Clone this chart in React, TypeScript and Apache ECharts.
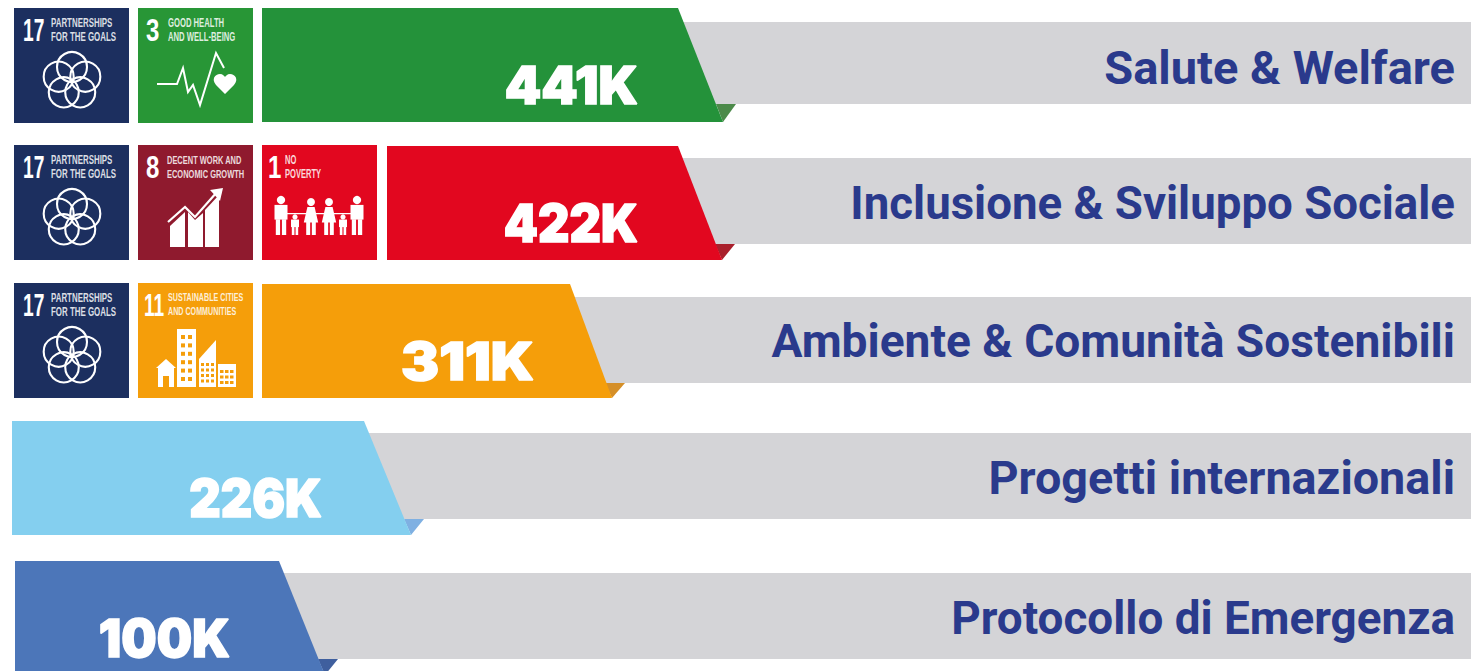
import React, { useEffect, useRef } from "react";
import * as echarts from "echarts";

// ---- data ----
const categories = [
  "Salute & Welfare",
  "Inclusione & Sviluppo Sociale",
  "Ambiente & Comunità Sostenibili",
  "Progetti internazionali",
  "Protocollo di Emergenza",
];
const values = [441, 422, 311, 226, 100];
const valueSuffix = "K";
// the infographic's bars are not to scale: where each bar starts and ends on the hidden x axis
const barStarts = [262, 387, 262, 12, 15];
const barEnds = [723, 722, 612, 411, 325];
const valueEnds = [638, 638, 534, 322, 230];
const sdgGoals = [[17, 3], [17, 8, 1], [17, 11], [], []];

// ---- styles and layout ----
const barColors = ["#24923a", "#e2071f", "#f59e0a", "#84cfef", "#4c76b9"];
const foldColors = ["#4c8a4a", "#a9202c", "#d58f28", "#7fb0e2", "#3f5f9e"];
const GRAY = "#d4d4d7";
const LABEL = "#2a3a8c";
const X_MAX = 1471;
const BAR_H = 114;
const slants = [45, 44, 42, 47, 46];
const rowNudge = [0, 0, 0, -1, 1];
const grayTop = [43, 45, 44, 45, 45];
const grayBottom = [39, 41, 42, 41, 41];
const labelScale = [1, 0.971, 0.981, 0.994, 0.975];
const labelNudge = [3, 0, 0, 0, 0];
const valueScale = [1, 0.937, 1.096, 0.937, 0.958];
const tileTop = [57, 58, 58];
const tileX = [14, 138, 262];
const TILE = 115;
const BODY = "Roboto, Lato, sans-serif";
const HEAVY = "Inter, Roboto, sans-serif";
const NARROW = "'Liberation Sans Narrow', 'Liberation Sans', sans-serif";

const goalInfo: Record<number, any> = {
  17: { color: "#1c2f5f", lines: ["PARTNERSHIPS", "FOR THE GOALS"], nx: 9, ns: 0.6, tx: 37, sx: 0.66, fs: 12 },
  3: { color: "#289636", lines: ["GOOD HEALTH", "AND WELL-BEING"], nx: 8, ns: 0.75, tx: 30, sx: 0.64, fs: 12 },
  8: { color: "#8f1a2e", lines: ["DECENT WORK AND", "ECONOMIC GROWTH"], nx: 8, ns: 0.75, tx: 29, sx: 0.68, fs: 11 },
  1: { color: "#e2071f", lines: ["NO", "POVERTY"], nx: 6, ns: 0.75, tx: 23, sx: 0.63, fs: 12 },
  11: { color: "#f59e0a", lines: ["SUSTAINABLE CITIES", "AND COMMUNITIES"], nx: 6, ns: 0.6, tx: 30, sx: 0.65, fs: 11 },
};

const W = "#ffffff";
const rect = (x: number, y: number, width: number, height: number, fill = W) => ({
  type: "rect",
  shape: { x, y, width, height },
  style: { fill },
});
const poly = (points: number[][], fill = W) => ({ type: "polygon", shape: { points }, style: { fill } });

function flower() {
  const rings: any[] = [];
  for (let k = 0; k < 5; k++) {
    const a = ((-90 + 72 * k) * Math.PI) / 180;
    rings.push({
      type: "circle",
      shape: { cx: 58 + 14 * Math.cos(a), cy: 73 + 14 * Math.sin(a), r: 15 },
      style: { fill: "none", stroke: W, lineWidth: 2.1 },
    });
  }
  return rings;
}

function health() {
  return [
    {
      type: "polyline",
      shape: {
        points: [[19, 76], [39, 76], [45, 60], [50, 84], [55, 77], [62, 97], [78, 45], [86, 60]],
      },
      style: { fill: "none", stroke: W, lineWidth: 2 },
    },
    {
      type: "path",
      shape: {
        pathData: "M87 86 L78 77 C73 71 77 66 82 66 C85 66 86 68 87 69 C88 68 89 66 92 66 C97 66 101 71 96 77 Z",
      },
      style: { fill: W },
    },
  ];
}

function growth() {
  return [
    poly([[32, 81], [47, 67], [47, 102], [32, 102]]),
    poly([[50, 67], [57, 75], [65, 68], [65, 102], [50, 102]]),
    poly([[67, 65], [81, 50], [81, 102], [67, 102]]),
    {
      type: "polyline",
      shape: { points: [[30, 77], [47, 62], [57, 72], [79, 47]] },
      style: { fill: "none", stroke: W, lineWidth: 2.2 },
    },
    poly([[85, 43], [72, 45], [82, 56]]),
  ];
}

function person(cx: number, head: number, feet: number, w: number, dress: boolean) {
  const h = feet - head;
  const items: any[] = [
    { type: "circle", shape: { cx, cy: head, r: h * 0.09 + 1 }, style: { fill: W } },
    dress
      ? poly([[cx - w * 0.3, head + h * 0.15], [cx + w * 0.3, head + h * 0.15], [cx + w * 0.6, head + h * 0.62], [cx - w * 0.6, head + h * 0.62]])
      : rect(cx - w / 2, head + h * 0.14, w, h * 0.42),
    rect(cx - w * 0.4, head + h * 0.55, w * 0.33, h * 0.45),
    rect(cx + w * 0.07, head + h * 0.55, w * 0.33, h * 0.45),
  ];
  return items;
}

function family() {
  return [
    ...person(19, 55, 90, 13, false),
    ...person(33, 72, 90, 8, false),
    ...person(49, 57, 90, 12, true),
    ...person(67, 57, 90, 12, true),
    ...person(81, 72, 90, 8, false),
    ...person(95, 55, 90, 13, false),
    rect(24, 68, 72, 1.2),
  ];
}

function city() {
  const bg = goalInfo[11].color;
  const out: any[] = [
    poly([[18, 85], [28, 76], [38, 85]]),
    rect(20, 85, 16, 19),
    rect(25, 93, 6, 11, bg),
    rect(39, 46, 19, 58),
    poly([[61, 76], [78, 57], [78, 104], [61, 104]]),
    rect(80, 81, 18, 23),
  ];
  for (let r = 0; r < 6; r++) {
    out.push(rect(43, 52 + r * 8.4, 4, 4, bg), rect(50, 52 + r * 8.4, 4, 4, bg));
  }
  for (let r = 0; r < 4; r++) {
    for (let c = 0; c < 3; c++) {
      out.push(rect(63 + c * 5, 80 + r * 5.5, 3, 3, bg));
    }
  }
  for (let r = 0; r < 3; r++) {
    for (let c = 0; c < 3; c++) {
      out.push(rect(82 + c * 5, 87 + r * 5.5, 3.5, 3, bg));
    }
  }
  return out;
}

const icons: Record<number, () => any[]> = { 17: flower, 3: health, 8: growth, 1: family, 11: city };

function tileChildren(goal: number) {
  const g = goalInfo[goal];
  return [
    rect(0, 0, TILE, TILE, g.color),
    {
      type: "text",
      x: g.nx,
      y: 22,
      scaleX: g.ns,
      style: { text: String(goal), fill: W, font: `bold 32px ${NARROW}`, align: "left", verticalAlign: "middle" },
    },
    ...g.lines.map((line: string, i: number) => ({
      type: "text",
      x: g.tx,
      y: 14.5 + i * 14,
      scaleX: g.sx,
      style: {
        text: line,
        fill: "rgba(255,255,255,0.85)",
        font: `bold ${g.fs}px ${NARROW}`,
        align: "left",
        verticalAlign: "middle",
      },
    })),
    ...icons[goal](),
  ];
}

const rows = categories.map((_, i) => i);
const centerY = (api: any, row: number, x = 0) => api.coord([x, row])[1] + rowNudge[row];

function App() {
  const ref = useRef<HTMLDivElement>(null);
  useEffect(() => {
    const chart = echarts.init(ref.current!, undefined, { renderer: "svg" });
    chart.setOption({
      animation: false,
      grid: { left: 0, right: 0, top: -4, height: 690, outerBoundsMode: "none" },
      xAxis: { type: "value", min: 0, max: X_MAX, show: false },
      yAxis: { type: "category", data: categories, inverse: true, show: false },
      series: [
        {
          // grey ribbons with the category names
          type: "custom",
          clip: false,
          encode: { x: 0, y: 1 },
          data: rows.map((r) => [barEnds[r] - slants[r], r]),
          renderItem: (_p: any, api: any) => {
            const r = api.value(1);
            const cy = centerY(api, r);
            const x = api.coord([api.value(0), r])[0];
            const right = api.coord([X_MAX, r])[0];
            return {
              type: "group",
              children: [
                {
                  type: "rect",
                  shape: { x, y: cy - grayTop[r], width: right - x, height: grayTop[r] + grayBottom[r] },
                  style: { fill: GRAY },
                },
                {
                  type: "text",
                  x: right - 16,
                  y: cy - 0.5 + labelNudge[r],
                  scaleX: labelScale[r],
                  style: {
                    text: categories[r],
                    fill: LABEL,
                    font: `bold 47px ${BODY}`,
                    align: "right",
                    verticalAlign: "middle",
                  },
                },
              ],
            };
          },
        },
        {
          // coloured slanted bars with their values
          type: "custom",
          clip: false,
          encode: { x: [0, 1], y: 2 },
          data: rows.map((r) => [barStarts[r], barEnds[r], r]),
          renderItem: (_p: any, api: any) => {
            const r = api.value(2);
            const cy = centerY(api, r);
            const x0 = api.coord([api.value(0), r])[0];
            const x1 = api.coord([api.value(1), r])[0];
            const top = cy - BAR_H / 2;
            const bottom = cy + BAR_H / 2;
            const foldY = cy + grayBottom[r];
            return {
              type: "group",
              children: [
                {
                  type: "polygon",
                  shape: { points: [[x1 - 7, foldY], [x1 + 13, foldY], [x1, bottom]] },
                  style: { fill: foldColors[r] },
                },
                {
                  type: "polygon",
                  shape: { points: [[x0, top], [x1 - slants[r], top], [x1, bottom], [x0, bottom]] },
                  style: { fill: barColors[r] },
                },
                {
                  type: "text",
                  x: api.coord([valueEnds[r], r])[0],
                  y: cy + 20,
                  scaleX: valueScale[r],
                  style: {
                    text: `${values[r]}${valueSuffix}`,
                    fill: W,
                    stroke: W,
                    lineWidth: 1.5,
                    font: `900 52px ${HEAVY}`,
                    align: "right",
                    verticalAlign: "middle",
                  },
                },
              ],
            };
          },
        },
        {
          // SDG tiles left of the bars
          type: "custom",
          clip: false,
          encode: { x: 0, y: 1 },
          data: sdgGoals.flatMap((goals, r) => goals.map((g, i) => [tileX[i], r, g])),
          renderItem: (_p: any, api: any) => {
            const r = api.value(1);
            const cy = centerY(api, r);
            const x = api.coord([api.value(0), r])[0];
            return {
              type: "group",
              x,
              y: cy - tileTop[r],
              children: tileChildren(api.value(2)),
            };
          },
        },
      ],
    });
    return () => chart.dispose();
  }, []);
  return <div ref={ref} style={{ position: "fixed", left: 0, top: 0, width: 1471, height: 671, background: "#fff" }} />;
}

export default App;
